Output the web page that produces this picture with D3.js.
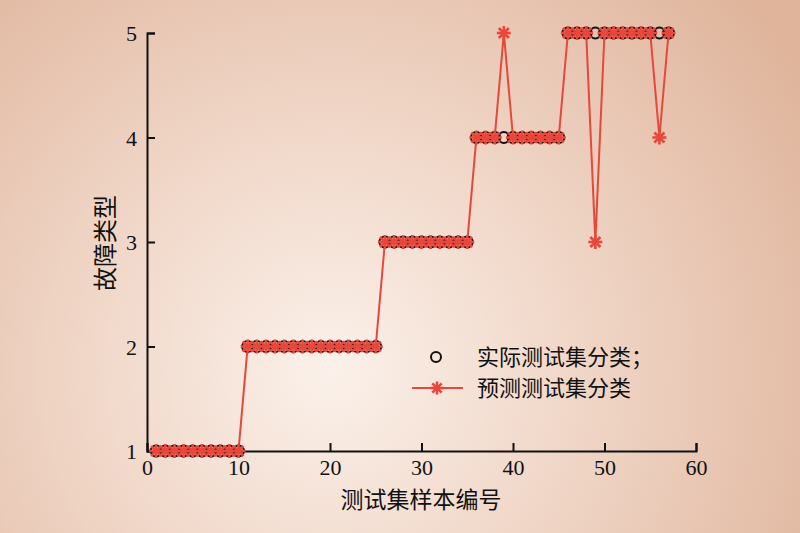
<!DOCTYPE html>
<html><head><meta charset="utf-8">
<script src="https://cdn.jsdelivr.net/npm/d3@7"></script>
<style>html,body{margin:0;padding:0;}svg{display:block;}</style>
</head><body>
<svg id="c" width="800" height="533"></svg>
<script>
const samples = d3.range(1, 58);
const actual = [1,1,1,1,1,1,1,1,1,1, 2,2,2,2,2,2,2,2,2,2,2,2,2,2,2, 3,3,3,3,3,3,3,3,3,3, 4,4,4,4,4,4,4,4,4,4, 5,5,5,5,5,5,5,5,5,5,5,5];
const predicted = [1,1,1,1,1,1,1,1,1,1, 2,2,2,2,2,2,2,2,2,2,2,2,2,2,2, 3,3,3,3,3,3,3,3,3,3, 4,4,4,5,4,4,4,4,4,4, 5,5,5,3,5,5,5,5,5,5,4,5];
const xTicks = [0,10,20,30,40,50,60];
const yTicks = [1,2,3,4,5];
const legendLabels = ["实际测试集分类；", "预测测试集分类"];
const xTitle = "测试集样本编号";
const yTitle = "故障类型";

const svg = d3.select("#c");
const defs = svg.append("defs");
const grad = defs.append("radialGradient").attr("id","bg")
  .attr("gradientUnits","userSpaceOnUse").attr("cx",330).attr("cy",370).attr("r",560);
grad.append("stop").attr("offset","0%").attr("stop-color","#fbf1ea");
grad.append("stop").attr("offset","45%").attr("stop-color","#f0d6c7");
grad.append("stop").attr("offset","100%").attr("stop-color","#dfb49b");
svg.append("rect").attr("width",800).attr("height",533).attr("fill","url(#bg)");

const x = d3.scaleLinear().domain([0,60]).range([147,696]);
const y = d3.scaleLinear().domain([1,5]).range([451,33]);
const red = "#e8473b";

// axes
const xAxis = svg.append("g").attr("transform","translate(0,451)")
  .call(d3.axisBottom(x).tickValues(xTicks).tickSize(-8).tickPadding(8).tickFormat(d3.format("d")));
const yAxis = svg.append("g").attr("transform","translate(147,0)")
  .call(d3.axisLeft(y).tickValues(yTicks).tickSize(-8).tickPadding(10).tickFormat(d3.format("d")));
[xAxis,yAxis].forEach(g=>{
  g.select(".domain").attr("stroke","#111").attr("stroke-width",2);
  g.selectAll(".tick line").attr("stroke","#111").attr("stroke-width",2);
  g.selectAll(".tick text").attr("font-family","'Liberation Serif', serif").attr("font-size",22).attr("fill","#111");
});
yAxis.selectAll(".tick text").attr("dy","0.35em");

// titles
svg.append("text").attr("x",421).attr("y",508).attr("text-anchor","middle")
  .attr("font-family","'Noto Sans CJK SC'").attr("font-size",23).attr("fill","#111").text(xTitle);
svg.append("text").attr("transform","translate(114,243) rotate(-90)").attr("text-anchor","middle")
  .attr("font-family","'Noto Sans CJK SC'").attr("font-size",24).attr("fill","#111").text(yTitle);

const data = samples.map((s,i)=>({s, a:actual[i], p:predicted[i]}));

// predicted line
svg.append("path").datum(data)
  .attr("d", d3.line().x(d=>x(d.s)).y(d=>y(d.p)))
  .attr("fill","none").attr("stroke",red).attr("stroke-width",2);

// actual circles
svg.append("g").selectAll("circle").data(data).join("circle")
  .attr("cx",d=>x(d.s)).attr("cy",d=>y(d.a)).attr("r",5.5)
  .attr("fill","none").attr("stroke","#111").attr("stroke-width",2);

function star(g, cx, cy, r){
  const s = g.append("g").attr("transform",`translate(${cx},${cy})`).attr("stroke",red).attr("stroke-width",2.6);
  s.append("line").attr("x1",-r).attr("x2",r).attr("y1",0).attr("y2",0);
  s.append("line").attr("y1",-r).attr("y2",r).attr("x1",0).attr("x2",0);
  const k = r*0.72;
  s.append("line").attr("x1",-k).attr("y1",-k).attr("x2",k).attr("y2",k);
  s.append("line").attr("x1",-k).attr("y1",k).attr("x2",k).attr("y2",-k);
}
const sg = svg.append("g");
data.forEach(d=>star(sg, x(d.s), y(d.p), 7));

// legend
svg.append("circle").attr("cx",436).attr("cy",357).attr("r",5).attr("fill","none").attr("stroke","#111").attr("stroke-width",2);
svg.append("line").attr("x1",412).attr("x2",463).attr("y1",388).attr("y2",388).attr("stroke",red).attr("stroke-width",2);
star(svg, 437, 388, 6.5);
legendLabels.forEach((t,i)=>{
  svg.append("text").attr("x",477).attr("y",357+i*31).attr("dy","0.35em")
    .attr("font-family","'Noto Sans CJK SC'").attr("font-size",22).attr("fill","#111").text(t);
});
</script>
</body></html>
